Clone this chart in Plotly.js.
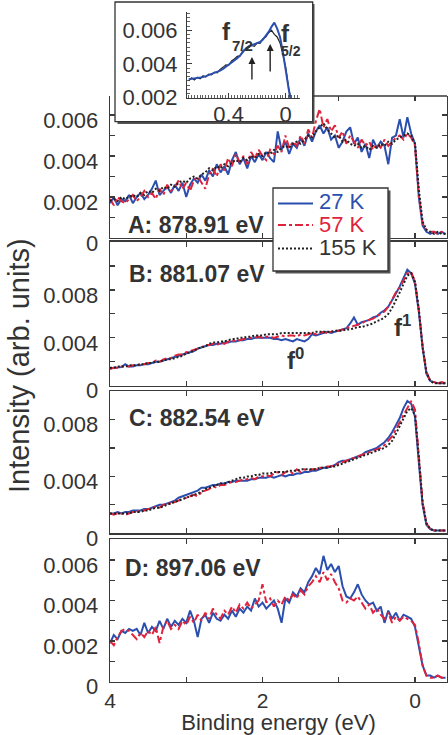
<!DOCTYPE html>
<html><head><meta charset="utf-8">
<script src="https://cdn.plot.ly/plotly-3.0.1.min.js"></script>
<style>html,body{margin:0;padding:0;background:#fff}#chart{width:448px;height:735px}</style>
</head><body><div id="chart"></div>
<script>
// Binding energy grid (eV)
const energy = [4.00,3.95,3.90,3.85,3.80,3.75,3.70,3.65,3.60,3.55,3.50,3.45,3.40,3.35,3.30,3.25,3.20,3.15,3.10,3.05,3.00,2.95,2.90,2.85,2.80,2.75,2.70,2.65,2.60,2.55,2.50,2.45,2.40,2.35,2.30,2.25,2.20,2.15,2.10,2.05,2.00,1.95,1.90,1.85,1.80,1.75,1.70,1.65,1.60,1.55,1.50,1.45,1.40,1.35,1.30,1.25,1.20,1.15,1.10,1.05,1.00,0.95,0.90,0.85,0.80,0.75,0.70,0.65,0.60,0.55,0.50,0.45,0.40,0.35,0.30,0.25,0.20,0.15,0.10,0.05,0.00,-0.05,-0.10,-0.15,-0.20,-0.25,-0.30,-0.35,-0.40];

// Panel A: 878.91 eV
const A_27K = [0.0017,0.0020,0.0016,0.0019,0.0018,0.0021,0.0017,0.0020,0.0022,0.0019,
0.0021,0.0024,0.0028,0.0021,0.0023,0.0025,0.0022,0.0026,0.0023,0.0027,
0.0020,0.0026,0.0029,0.0027,0.0031,0.0028,0.0033,0.0030,0.0036,0.0032,
0.0035,0.0031,0.0038,0.0042,0.0036,0.0039,0.0034,0.0040,0.0037,0.0041,
0.0038,0.0042,0.0039,0.0037,0.0052,0.0043,0.0047,0.0041,0.0046,0.0044,
0.0049,0.0045,0.0051,0.0047,0.0052,0.0055,0.0051,0.0054,0.0048,0.0050,
0.0044,0.0047,0.0052,0.0054,0.0046,0.0049,0.0042,0.0046,0.0039,0.0048,
0.0044,0.0047,0.0045,0.0036,0.0049,0.0050,0.0058,0.0049,0.0059,0.0051,
0.0046,0.0020,0.0006,0.0003,0.0002,0.0003,0.0002,0.0003,0.0002];
const A_57K = [0.0019,0.0016,0.0020,0.0018,0.0017,0.0019,0.0021,0.0018,0.0020,0.0023,
0.0020,0.0022,0.0019,0.0024,0.0021,0.0026,0.0023,0.0025,0.0028,0.0024,
0.0027,0.0023,0.0028,0.0030,0.0027,0.0024,0.0031,0.0034,0.0030,0.0036,
0.0033,0.0039,0.0035,0.0041,0.0037,0.0040,0.0036,0.0042,0.0039,0.0043,
0.0040,0.0038,0.0043,0.0041,0.0045,0.0042,0.0050,0.0044,0.0047,0.0045,
0.0050,0.0046,0.0053,0.0049,0.0057,0.0063,0.0054,0.0058,0.0052,0.0055,
0.0049,0.0052,0.0046,0.0050,0.0047,0.0044,0.0048,0.0045,0.0047,0.0043,
0.0046,0.0044,0.0048,0.0045,0.0047,0.0049,0.0050,0.0048,0.0051,0.0049,
0.0045,0.0021,0.0007,0.0004,0.0003,0.0003,0.0002,0.0003,0.0002];
const A_155K = [0.0018,0.0019,0.0018,0.0020,0.0019,0.0020,0.0021,0.0020,0.0022,0.0021,
0.0023,0.0022,0.0024,0.0023,0.0025,0.0024,0.0026,0.0025,0.0027,0.0028,
0.0027,0.0029,0.0030,0.0029,0.0031,0.0032,0.0034,0.0033,0.0035,0.0034,
0.0036,0.0035,0.0037,0.0038,0.0037,0.0039,0.0038,0.0040,0.0039,0.0041,
0.0040,0.0042,0.0041,0.0043,0.0042,0.0044,0.0045,0.0044,0.0046,0.0047,
0.0046,0.0048,0.0050,0.0049,0.0052,0.0054,0.0056,0.0053,0.0051,0.0049,
0.0050,0.0047,0.0048,0.0046,0.0045,0.0046,0.0044,0.0045,0.0043,0.0045,
0.0044,0.0046,0.0045,0.0047,0.0046,0.0048,0.0049,0.0050,0.0051,0.0050,
0.0046,0.0024,0.0008,0.0004,0.0003,0.0002,0.0003,0.0002,0.0002];

// Panel B: 881.07 eV
const B_27K = [0.00145,0.0015,0.0015,0.00155,0.0018,0.0016,0.0016,0.0017,0.0017,0.0018,
0.0018,0.0019,0.0020,0.0020,0.0021,0.0022,0.0023,0.0024,0.0025,0.0026,
0.0027,0.0028,0.0029,0.0031,0.0032,0.0033,0.0034,0.0034,0.0035,0.0035,
0.0036,0.0036,0.0037,0.0037,0.0038,0.0038,0.0039,0.0039,0.0040,0.0040,
0.0040,0.0040,0.0040,0.0039,0.0039,0.0038,0.0039,0.0038,0.0037,0.0039,
0.0038,0.0037,0.0039,0.0043,0.0042,0.0043,0.0044,0.0045,0.0044,0.0045,
0.0046,0.0047,0.0048,0.0052,0.0057,0.0051,0.0053,0.0054,0.0055,0.0057,
0.0058,0.0061,0.0063,0.0066,0.0071,0.0077,0.0083,0.0090,0.0097,0.0094,
0.0085,0.0062,0.0032,0.0010,0.0004,0.0003,0.0002,0.0002,0.0002];
const B_57K = [0.0014,0.0015,0.0015,0.0016,0.0016,0.0016,0.0017,0.0017,0.0018,0.0018,
0.0019,0.0019,0.0021,0.0020,0.0022,0.0023,0.0023,0.0025,0.0026,0.0026,
0.0028,0.0029,0.0030,0.0031,0.0032,0.0034,0.0034,0.0035,0.0034,0.0036,
0.0035,0.0037,0.0037,0.0038,0.0038,0.0039,0.0039,0.0040,0.0040,0.0041,
0.0040,0.0041,0.0041,0.0040,0.0041,0.0042,0.0041,0.0042,0.0042,0.0041,
0.0043,0.0042,0.0043,0.0044,0.0043,0.0044,0.0045,0.0044,0.0045,0.0046,
0.0046,0.0047,0.0048,0.0049,0.0050,0.0051,0.0052,0.0054,0.0055,0.0056,
0.0058,0.0060,0.0062,0.0066,0.0072,0.0078,0.0082,0.0088,0.0094,0.0095,
0.0087,0.0064,0.0033,0.0012,0.0004,0.0003,0.0002,0.0003,0.0002];
const B_155K = [0.0015,0.0015,0.0016,0.0016,0.0016,0.0017,0.0017,0.0017,0.0018,0.0018,
0.0019,0.0019,0.0020,0.0020,0.0021,0.0022,0.0022,0.0023,0.0024,0.0025,
0.0027,0.0028,0.0029,0.0031,0.0032,0.0033,0.0035,0.0036,0.0036,0.0037,
0.0037,0.0038,0.0039,0.0039,0.0040,0.0040,0.0041,0.0041,0.0042,0.0042,
0.0042,0.0043,0.0043,0.0043,0.0043,0.0044,0.0044,0.0044,0.0044,0.0044,
0.0044,0.0044,0.0044,0.0044,0.0045,0.0045,0.0045,0.0045,0.0045,0.0046,
0.0046,0.0046,0.0047,0.0047,0.0048,0.0049,0.0049,0.0050,0.0051,0.0052,
0.0054,0.0055,0.0057,0.0060,0.0065,0.0071,0.0078,0.0085,0.0092,0.0094,
0.0087,0.0064,0.0032,0.0011,0.0004,0.0002,0.0002,0.0002,0.0002];

// Panel C: 882.54 eV
const C_27K = [0.0014,0.0014,0.0015,0.0014,0.0015,0.0015,0.0016,0.0016,0.0016,0.0017,
0.0017,0.0018,0.0019,0.0020,0.0020,0.0021,0.0022,0.0023,0.0025,0.0026,
0.0027,0.0028,0.0029,0.0030,0.0032,0.0032,0.0033,0.0034,0.0034,0.0035,
0.0035,0.0036,0.0036,0.0037,0.0037,0.0037,0.0037,0.0038,0.0038,0.0039,
0.0039,0.0039,0.0040,0.0039,0.0040,0.0041,0.0040,0.0041,0.0041,0.0042,
0.0042,0.0043,0.0043,0.0044,0.0044,0.0045,0.0046,0.0046,0.0047,0.0048,
0.0050,0.0051,0.0051,0.0052,0.0053,0.0054,0.0055,0.0057,0.0058,0.0059,
0.0060,0.0062,0.0064,0.0067,0.0071,0.0076,0.0081,0.0088,0.0093,0.0091,
0.0082,0.0050,0.0020,0.0006,0.0003,0.0002,0.0002,0.0002,0.0002];
const C_57K = [0.0014,0.0013,0.0014,0.0014,0.0013,0.0014,0.0015,0.0015,0.0016,0.0016,
0.0017,0.0017,0.0019,0.0018,0.0020,0.0021,0.0021,0.0022,0.0023,0.0024,
0.0025,0.0026,0.0027,0.0026,0.0029,0.0030,0.0031,0.0033,0.0032,0.0034,
0.0034,0.0035,0.0036,0.0036,0.0037,0.0038,0.0038,0.0039,0.0038,0.0040,
0.0040,0.0041,0.0040,0.0042,0.0043,0.0041,0.0043,0.0044,0.0042,0.0045,
0.0043,0.0045,0.0044,0.0045,0.0045,0.0046,0.0046,0.0047,0.0047,0.0048,
0.0049,0.0050,0.0051,0.0052,0.0053,0.0054,0.0055,0.0056,0.0057,0.0058,
0.0059,0.0060,0.0062,0.0065,0.0068,0.0073,0.0078,0.0084,0.0089,0.0093,
0.0087,0.0056,0.0022,0.0007,0.0003,0.0002,0.0002,0.0002,0.0002];
const C_155K = [0.0014,0.0014,0.0014,0.0014,0.0014,0.0014,0.0015,0.0015,0.0015,0.0016,
0.0016,0.0017,0.0018,0.0018,0.0019,0.0020,0.0021,0.0022,0.0023,0.0024,
0.0025,0.0026,0.0027,0.0028,0.0029,0.0031,0.0032,0.0033,0.0034,0.0035,
0.0035,0.0036,0.0037,0.0038,0.0039,0.0039,0.0040,0.0040,0.0041,0.0041,
0.0042,0.0042,0.0042,0.0043,0.0043,0.0043,0.0043,0.0044,0.0044,0.0044,
0.0045,0.0045,0.0045,0.0045,0.0045,0.0046,0.0046,0.0046,0.0047,0.0047,
0.0048,0.0049,0.0050,0.0051,0.0052,0.0053,0.0054,0.0055,0.0056,0.0057,
0.0058,0.0059,0.0060,0.0062,0.0065,0.0070,0.0075,0.0081,0.0086,0.0088,
0.0083,0.0054,0.0021,0.0007,0.0003,0.0002,0.0002,0.0002,0.0002];

// Panel D: 897.06 eV
const D_27K = [0.0019,0.0023,0.0021,0.0025,0.0024,0.0026,0.0025,0.0026,0.0023,0.0029,
0.0024,0.0027,0.0025,0.0030,0.0026,0.0031,0.0027,0.0030,0.0028,0.0031,
0.0029,0.0035,0.0030,0.0022,0.0031,0.0033,0.0029,0.0034,0.0031,0.0030,
0.0033,0.0031,0.0035,0.0032,0.0036,0.0034,0.0037,0.0035,0.0041,0.0037,
0.0039,0.0036,0.0038,0.0040,0.0036,0.0029,0.0041,0.0039,0.0044,0.0042,
0.0046,0.0044,0.0049,0.0052,0.0056,0.0053,0.0062,0.0055,0.0058,0.0054,
0.0057,0.0047,0.0042,0.0041,0.0044,0.0048,0.0043,0.0040,0.0038,0.0039,
0.0035,0.0037,0.0029,0.0035,0.0031,0.0034,0.0030,0.0033,0.0032,0.0031,
0.0027,0.0018,0.0008,0.0003,0.0003,0.0002,0.0003,0.0002,0.0002];
const D_57K = [0.0020,0.0018,0.0022,0.0025,0.0026,0.0025,0.0023,0.0021,0.0024,0.0022,
0.0025,0.0023,0.0027,0.0019,0.0027,0.0030,0.0026,0.0028,0.0026,0.0030,
0.0028,0.0032,0.0029,0.0033,0.0030,0.0034,0.0031,0.0036,0.0033,0.0031,
0.0035,0.0033,0.0037,0.0034,0.0038,0.0036,0.0039,0.0036,0.0038,0.0040,
0.0048,0.0039,0.0041,0.0037,0.0040,0.0038,0.0042,0.0040,0.0043,0.0041,
0.0045,0.0043,0.0047,0.0049,0.0052,0.0049,0.0054,0.0050,0.0053,0.0049,
0.0046,0.0040,0.0039,0.0041,0.0040,0.0042,0.0039,0.0036,0.0038,0.0034,
0.0036,0.0033,0.0031,0.0034,0.0029,0.0032,0.0030,0.0032,0.0031,0.0030,
0.0028,0.0019,0.0008,0.0003,0.0002,0.0002,0.0003,0.0002,0.0002];

// Inset (enlarged near the Fermi level)
const insetEnergy = [0.68,0.66,0.64,0.62,0.60,0.58,0.56,0.54,0.52,0.50,0.48,0.46,0.44,0.42,0.40,0.38,0.36,0.34,0.32,0.30,0.28,0.26,0.24,0.22,0.20,0.18,0.16,0.14,0.12,0.10,0.08,0.06,0.04,0.02,0.00,-0.02,-0.04,-0.06,-0.08,-0.10];
const inset_27K = [0.00310,0.00312,0.00314,0.00316,0.00320,0.00322,0.00328,0.00334,0.00340,0.00346,0.00352,0.00360,0.00370,0.00382,0.00396,0.00410,0.00422,0.00434,0.00450,0.00470,0.00492,0.00505,0.00512,0.00518,0.00523,0.00530,0.00545,0.00565,0.00590,0.00620,0.00645,0.00610,0.00560,0.00470,0.00350,0.00220,0.00150,0.00100,0.00080,0.00070];
const inset_155K = [0.00300,0.00318,0.00305,0.00322,0.00312,0.00330,0.00322,0.00340,0.00335,0.00352,0.00348,0.00368,0.00380,0.00395,0.00392,0.00418,0.00430,0.00445,0.00448,0.00480,0.00485,0.00498,0.00510,0.00505,0.00525,0.00522,0.00550,0.00560,0.00585,0.00600,0.00575,0.00560,0.00525,0.00455,0.00380,0.00260,0.00150,0.00100,0.00080,0.00070];

const seriesNames = ['27 K','57 K','155 K'];
const panelLabels = ['A: 878.91 eV','B: 881.07 eV','C: 882.54 eV','D: 897.06 eV'];
const xTickVals = [4,2,0];
const yTicksSmall = [0,0.002,0.004,0.006];
const yTicksLarge = [0,0.004,0.008];
const insetXTicks = [0.4,0];
const insetYTicks = [0.002,0.004,0.006];

// ---------- styling / layout ----------
const W = 448, H = 735;
const px = v => v / W, py = v => 1 - v / H;
const AX = '#3a3a3a';
const BLUE = '#2b4fae', RED = '#e0233c', BLACK = '#222222';
const FONT = '"Liberation Sans", Arial, sans-serif';
const styles = [
  {color: BLUE, width: 2, dash: 'solid'},
  {color: RED, width: 2, dash: '8px,3px,3px,3px'},
  {color: BLACK, width: 2, dash: '2px,2px'}
];
const XR = [4, -0.42];
const xDom = [px(110), px(447)];

function yAxis(domain, range, vals, minorStep) {
  return {domain, range, tickmode: 'array', tickvals: vals, tickformat: '.3~f',
    ticks: 'inside', ticklen: 5, tickwidth: 1.2, tickcolor: AX,
    minor: {tickmode: 'linear', tick0: 0, dtick: minorStep, ticks: 'inside', ticklen: 5, tickwidth: 1.2, tickcolor: AX},
    showline: true, linecolor: AX, linewidth: 1.4, mirror: 'ticks',
    showgrid: false, zeroline: false, ticklabelstandoff: 6, ticklabelshift: 5,
    tickfont: {size: 22, color: '#333'}, fixedrange: true};
}
function xAxis(anchor, labels, mirror) {
  return {domain: xDom, anchor, range: XR, tickmode: 'array', tickvals: xTickVals,
    ticks: 'inside', ticklen: 5, tickwidth: 1.2, tickcolor: AX,
    minor: {tickmode: 'linear', tick0: 0, dtick: 1, ticks: 'inside', ticklen: 5, tickwidth: 1.2, tickcolor: AX},
    showline: true, linecolor: AX, linewidth: 1.4, mirror,
    showticklabels: labels, showgrid: false, zeroline: false,
    tickfont: {size: 21, color: '#333'}, fixedrange: true};
}

const panels = [
  {xa: 'x', ya: 'y', data: [A_27K, A_57K, A_155K]},
  {xa: 'x2', ya: 'y2', data: [B_27K, B_57K, B_155K]},
  {xa: 'x3', ya: 'y3', data: [C_27K, C_57K, C_155K]},
  {xa: 'x4', ya: 'y4', data: [D_27K, D_57K]}
];
const traces = [];
panels.forEach(p => {
  p.data.forEach((ys, k) => {
    traces.push({type: 'scatter', mode: 'lines', x: energy, y: ys, xaxis: p.xa, yaxis: p.ya,
      name: seriesNames[k], line: Object.assign({shape: 'linear'}, styles[k]), showlegend: false, hoverinfo: 'skip'});
  });
});
traces.push({type: 'scatter', mode: 'lines', x: insetEnergy, y: inset_155K, xaxis: 'x5', yaxis: 'y5',
  name: '155 K', line: {color: BLACK, width: 1.2}, showlegend: false, hoverinfo: 'skip'});
traces.push({type: 'scatter', mode: 'lines', x: insetEnergy, y: inset_27K, xaxis: 'x5', yaxis: 'y5',
  name: '27 K', line: {color: BLUE, width: 2}, showlegend: false, hoverinfo: 'skip'});
traces.push({type: 'scatter', mode: 'lines', x: [], y: [], xaxis: 'x6', yaxis: 'y', showlegend: false, hoverinfo: 'skip'});

const layout = {
  width: W, height: H, margin: {l: 0, r: 0, t: 0, b: 0},
  paper_bgcolor: '#fff', plot_bgcolor: 'rgba(0,0,0,0)',
  font: {family: FONT, color: '#333', size: 22},
  showlegend: false,
  xaxis: xAxis('y', false, false),
  xaxis2: xAxis('y2', false, 'ticks'),
  xaxis3: xAxis('y3', false, 'ticks'),
  xaxis4: Object.assign(xAxis('y4', true, 'ticks'), {title: {text: 'Binding energy (eV)', font: {size: 22, color: '#333'}, standoff: 6}}),
  xaxis6: {overlaying: 'x', anchor: 'y', side: 'top', range: XR, tickmode: 'array', tickvals: [1, 0],
    ticks: 'inside', ticklen: 5, tickwidth: 1.2, tickcolor: AX, showticklabels: false,
    showline: false, showgrid: false, zeroline: false, fixedrange: true},
  yaxis: yAxis([py(238), py(96)], [0, 0.00693], yTicksSmall, 0.001),
  yaxis2: yAxis([py(385.7), py(241.5)], [0, 0.01205], yTicksLarge, 0.002),
  yaxis3: yAxis([py(533.3), py(391)], [0, 0.0100], yTicksLarge, 0.002),
  yaxis4: yAxis([py(681.7), py(539)], [0, 0.00703], yTicksSmall, 0.001),
  xaxis5: {domain: [px(187.3), px(300)], anchor: 'y5', range: [0.69, -0.1], tickmode: 'array',
    tickvals: insetXTicks, ticks: 'inside', ticklen: 5, tickwidth: 1, tickcolor: AX,
    minor: {tickmode: 'linear', tick0: 0, dtick: 0.02, ticks: 'inside', ticklen: 3, tickwidth: 0.8, tickcolor: AX},
    showline: true, linecolor: AX, linewidth: 1.3, mirror: false, showgrid: false, zeroline: false,
    ticklabelstandoff: -3, tickfont: {size: 22, color: '#333'}, fixedrange: true},
  yaxis5: {domain: [py(97.7), py(11.7)], anchor: 'x5', range: [0.002, 0.0071], tickmode: 'array',
    tickvals: insetYTicks, tickformat: '.3f', ticks: 'inside', ticklen: 5, tickwidth: 1, tickcolor: AX,
    minor: {tickmode: 'linear', tick0: 0, dtick: 0.00025, ticks: 'inside', ticklen: 3, tickwidth: 0.8, tickcolor: AX},
    showline: true, linecolor: AX, linewidth: 1.3, mirror: false, showgrid: false, zeroline: false,
    ticklabelstandoff: 4, tickfont: {size: 22, color: '#333'}, fixedrange: true},
  shapes: [
    // inset frame with shadow
    {type: 'rect', xref: 'paper', yref: 'paper', x0: px(117.5), x1: px(314.5), y0: py(124), y1: py(4), fillcolor: '#555', line: {width: 0}, layer: 'below'},
    {type: 'rect', xref: 'paper', yref: 'paper', x0: px(115), x1: px(312.7), y0: py(121.7), y1: py(2), fillcolor: '#fff', line: {color: '#333', width: 1.3}, layer: 'below'},
    // panel A top border (outside the inset)
    {type: 'line', xref: 'paper', yref: 'y domain', x0: px(312.7), x1: px(447), y0: 1, y1: 1, line: {color: AX, width: 1.4}},
    // legend box with shadow
    {type: 'rect', xref: 'paper', yref: 'paper', x0: px(275.5), x1: px(390.5), y0: py(273.5), y1: py(190.5), fillcolor: '#555', line: {width: 0}, layer: 'above'},
    {type: 'rect', xref: 'paper', yref: 'paper', x0: px(273), x1: px(388), y0: py(271), y1: py(188), fillcolor: '#fff', line: {color: '#333', width: 1.3}, layer: 'above'},
    {type: 'line', xref: 'paper', yref: 'paper', x0: px(278), x1: px(313), y0: py(203.5), y1: py(203.5), line: styles[0], layer: 'above'},
    {type: 'line', xref: 'paper', yref: 'paper', x0: px(278), x1: px(313), y0: py(225), y1: py(225), line: styles[1], layer: 'above'},
    {type: 'line', xref: 'paper', yref: 'paper', x0: px(278), x1: px(313), y0: py(248.5), y1: py(248.5), line: styles[2], layer: 'above'}
  ],
  annotations: [
    {text: 'Intensity (arb. units)', xref: 'paper', yref: 'paper', x: px(19), y: py(366), textangle: -90, showarrow: false, font: {size: 29, color: '#333'}, xanchor: 'center', yanchor: 'middle'},
    {text: '<b>' + panelLabels[0] + '</b>', xref: 'paper', yref: 'paper', x: px(126), y: py(225), xanchor: 'left', yanchor: 'middle', showarrow: false, font: {size: 23, color: '#333'}},
    {text: '<b>' + panelLabels[1] + '</b>', xref: 'paper', yref: 'paper', x: px(127), y: py(274), xanchor: 'left', yanchor: 'middle', showarrow: false, font: {size: 23, color: '#333'}},
    {text: '<b>' + panelLabels[2] + '</b>', xref: 'paper', yref: 'paper', x: px(127), y: py(418), xanchor: 'left', yanchor: 'middle', showarrow: false, font: {size: 23, color: '#333'}},
    {text: '<b>' + panelLabels[3] + '</b>', xref: 'paper', yref: 'paper', x: px(123), y: py(568), xanchor: 'left', yanchor: 'middle', showarrow: false, font: {size: 23, color: '#333'}},
    {text: '27 K', xref: 'paper', yref: 'paper', x: px(317), y: py(201.5), xanchor: 'left', yanchor: 'middle', showarrow: false, font: {size: 22, color: BLUE}},
    {text: '57 K', xref: 'paper', yref: 'paper', x: px(317), y: py(224), xanchor: 'left', yanchor: 'middle', showarrow: false, font: {size: 22, color: RED}},
    {text: '155 K', xref: 'paper', yref: 'paper', x: px(317), y: py(248), xanchor: 'left', yanchor: 'middle', showarrow: false, font: {size: 22, color: '#333'}},
    {text: '<b>f<sup>0</sup></b>', xref: 'x2', yref: 'y2', x: 1.57, y: 0.0022, showarrow: false, font: {size: 24, color: '#333'}},
    {text: '<b>f<sup>1</sup></b>', xref: 'x2', yref: 'y2', x: 0.17, y: 0.0050, showarrow: false, font: {size: 24, color: '#333'}},
    {text: '<b>f</b>', xref: 'paper', yref: 'paper', x: px(226), y: py(16), showarrow: false, font: {size: 24, color: '#333'}},
    {text: '<b>7/2</b>', xref: 'paper', yref: 'paper', x: px(242), y: py(35), showarrow: false, font: {size: 15, color: '#333'}},
    {text: '<b>f</b>', xref: 'paper', yref: 'paper', x: px(285), y: py(18), showarrow: false, font: {size: 24, color: '#333'}},
    {text: '<b>5/2</b>', xref: 'paper', yref: 'paper', x: px(303), y: py(41), showarrow: false, font: {size: 14, color: '#333'}},
    {text: '', xref: 'x5', yref: 'y5', x: 0.237, y: 0.00442, ax: 0, ay: 24, showarrow: true, arrowhead: 2, arrowsize: 1, arrowwidth: 1.4, arrowcolor: '#222'},
    {text: '', xref: 'x5', yref: 'y5', x: 0.109, y: 0.00519, ax: 0, ay: 29, showarrow: true, arrowhead: 2, arrowsize: 1, arrowwidth: 1.4, arrowcolor: '#222'}
  ]
};

Plotly.newPlot('chart', traces, layout, {displayModeBar: false, staticPlot: true});
</script>
</body></html>
